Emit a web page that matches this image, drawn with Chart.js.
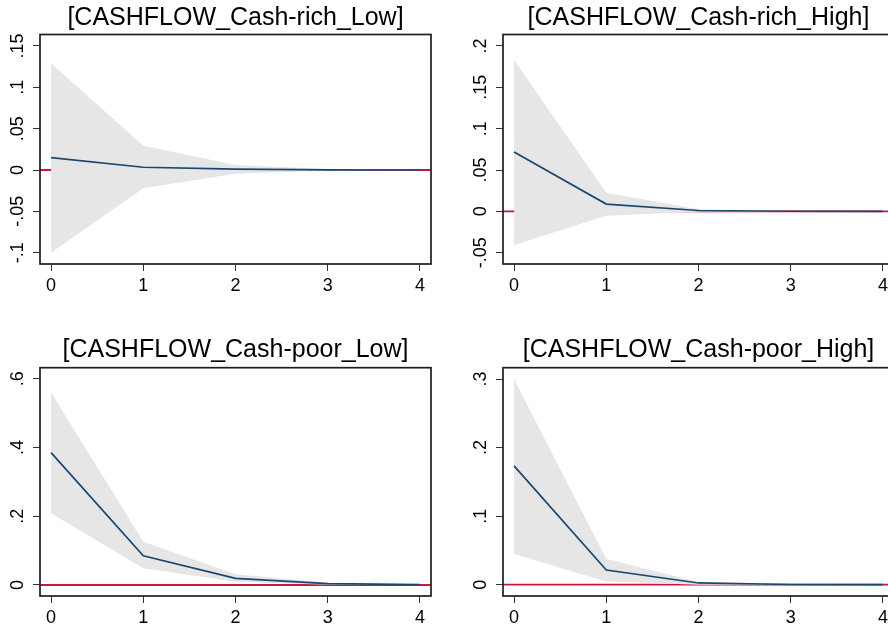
<!DOCTYPE html>
<html>
<head>
<meta charset="utf-8">
<script src="https://cdn.jsdelivr.net/npm/chart.js@4/dist/chart.umd.min.js"></script>
<style>
html,body{margin:0;padding:0;background:#fff;width:888px;height:631px;overflow:hidden;position:relative;}
canvas{position:absolute;display:block;}
</style>
</head>
<body>
<canvas id="c1"></canvas>
<canvas id="c2"></canvas>
<canvas id="c3"></canvas>
<canvas id="c4"></canvas>
<script>
// ---------- DATA ----------
const steps = [0, 1, 2, 3, 4];
const xTickLabels = ['0', '1', '2', '3', '4'];

const titleRichLow  = '[CASHFLOW_Cash-rich_Low]';
const titleRichHigh = '[CASHFLOW_Cash-rich_High]';
const titlePoorLow  = '[CASHFLOW_Cash-poor_Low]';
const titlePoorHigh = '[CASHFLOW_Cash-poor_High]';

const irfRichLow   = [0.0149, 0.0033, 0.0010, 0.0002, 0.0000];
const upperRichLow = [0.1290, 0.0293, 0.0060, 0.0012, 0.0002];
const lowerRichLow = [-0.1000, -0.0220, -0.0045, -0.0008, -0.0001];

const irfRichHigh   = [0.0718, 0.0088, 0.0010, 0.0001, 0.0000];
const upperRichHigh = [0.1830, 0.0225, 0.0025, 0.0003, 0.0000];
const lowerRichHigh = [-0.0408, -0.0053, -0.0005, -0.0001, 0.0000];

const irfPoorLow   = [0.385, 0.085, 0.0195, 0.004, 0.001];
const upperPoorLow = [0.560, 0.126, 0.031, 0.007, 0.0015];
const lowerPoorLow = [0.2085, 0.0485, 0.0096, 0.001, 0.0002];

const irfPoorHigh   = [0.1733, 0.0214, 0.0025, 0.0003, 0.0000];
const upperPoorHigh = [0.2995, 0.0374, 0.0040, 0.0006, 0.0001];
const lowerPoorHigh = [0.0447, 0.0048, 0.0000, 0.0000, 0.0000];

const yTicksRichLow   = [-0.1, -0.05, 0, 0.05, 0.1, 0.15];
const yLabelsRichLow  = ['-.1', '-.05', '0', '.05', '.1', '.15'];
const yTicksRichHigh  = [-0.05, 0, 0.05, 0.1, 0.15, 0.2];
const yLabelsRichHigh = ['-.05', '0', '.05', '.1', '.15', '.2'];
const yTicksPoorLow   = [0, 0.2, 0.4, 0.6];
const yLabelsPoorLow  = ['0', '.2', '.4', '.6'];
const yTicksPoorHigh  = [0, 0.1, 0.2, 0.3];
const yLabelsPoorHigh = ['0', '.1', '.2', '.3'];

const yRangeRichLow  = [-0.1137, 0.1639];
const yRangeRichHigh = [-0.0637, 0.2139];
const yRangePoorLow  = [-0.032, 0.632];
const yRangePoorHigh = [-0.0165, 0.3165];
const xRange = [-0.12, 4.12];
const zeroLevel = 0;

// ---------- STYLE / LAYOUT ----------
const FONT = "'Liberation Sans', Arial, Helvetica, sans-serif";
const TICK_SIZE = 18;
const TITLE_SIZE = 25;
const NAVY = '#1a476f';
const BAND = '#e6e6e6';
const RED = '#cc1440';
const AXIS = '#333333';

const mctx = document.createElement('canvas').getContext('2d');
mctx.font = TICK_SIZE + 'px ' + FONT;
function widestLabel(labels) {
  return Math.max(...labels.map(l => mctx.measureText(l).width));
}

const panels = [
  {id: 'c1', left: 0,   top: 0,   h: 310, xH: 46, tp: {top: 3, bottom: 1.5},
   title: titleRichLow, irf: irfRichLow, up: upperRichLow, lo: lowerRichLow,
   yTicks: yTicksRichLow, yLabels: yLabelsRichLow, yRange: yRangeRichLow},
  {id: 'c2', left: 463, top: 0,   h: 310, xH: 46, tp: {top: 3, bottom: 1.5},
   title: titleRichHigh, irf: irfRichHigh, up: upperRichHigh, lo: lowerRichHigh,
   yTicks: yTicksRichHigh, yLabels: yLabelsRichHigh, yRange: yRangeRichHigh},
  {id: 'c3', left: 0,   top: 332, h: 299, xH: 35, tp: {top: 3, bottom: 2.7},
   title: titlePoorLow, irf: irfPoorLow, up: upperPoorLow, lo: lowerPoorLow,
   yTicks: yTicksPoorLow, yLabels: yLabelsPoorLow, yRange: yRangePoorLow},
  {id: 'c4', left: 463, top: 332, h: 299, xH: 35, tp: {top: 3, bottom: 2.7},
   title: titlePoorHigh, irf: irfPoorHigh, up: upperPoorHigh, lo: lowerPoorHigh,
   yTicks: yTicksPoorHigh, yLabels: yLabelsPoorHigh, yRange: yRangePoorHigh}
];

const framePlugin = {
  id: 'frame',
  beforeDatasetsDraw(chart) {
    const {ctx, chartArea: a, scales: {y}} = chart;
    const py = y.getPixelForValue(zeroLevel);
    ctx.save();
    ctx.strokeStyle = RED;
    ctx.lineWidth = 1.8;
    ctx.beginPath();
    ctx.moveTo(a.left, py);
    ctx.lineTo(a.right, py);
    ctx.stroke();
    ctx.restore();
  },
  afterDatasetsDraw(chart) {
    const {ctx, chartArea: a} = chart;
    ctx.save();
    ctx.strokeStyle = '#1e1e1e';
    ctx.lineWidth = 1.7;
    ctx.strokeRect(a.left, a.top, a.right - a.left, a.bottom - a.top);
    ctx.restore();
  }
};

const Y_AXIS_W = 40, TICK_LEN = 7, Y_LABEL_CENTER = 18.3;

panels.forEach(p => {
  const cv = document.getElementById(p.id);
  cv.width = 444; cv.height = p.h;
  cv.style.left = p.left + 'px'; cv.style.top = p.top + 'px';
  cv.style.width = '444px'; cv.style.height = p.h + 'px';
  const yPad = Y_AXIS_W - TICK_LEN - Y_LABEL_CENTER - widestLabel(p.yLabels) / 2;

  new Chart(cv, {
    type: 'line',
    data: {
      datasets: [
        {label: 'irf', data: steps.map((s, i) => ({x: s, y: p.irf[i]})),
         borderColor: NAVY, borderWidth: 1.7, pointRadius: 0, tension: 0, fill: false},
        {label: 'upper', data: steps.map((s, i) => ({x: s, y: p.up[i]})),
         borderColor: 'rgba(0,0,0,0)', borderWidth: 0, backgroundColor: BAND,
         pointRadius: 0, tension: 0, fill: '+1'},
        {label: 'lower', data: steps.map((s, i) => ({x: s, y: p.lo[i]})),
         borderColor: 'rgba(0,0,0,0)', borderWidth: 0, pointRadius: 0, tension: 0, fill: false}
      ]
    },
    options: {
      responsive: false,
      animation: false,
      devicePixelRatio: 1,
      layout: {padding: {left: 0, right: 13, top: 0, bottom: 0}},
      plugins: {
        legend: {display: false},
        tooltip: {enabled: false},
        title: {
          display: true, text: p.title, fullSize: false, color: '#000',
          font: {family: FONT, size: TITLE_SIZE, weight: 'normal', lineHeight: 1.2},
          padding: p.tp
        }
      },
      scales: {
        x: {
          type: 'linear', min: xRange[0], max: xRange[1],
          afterBuildTicks(s) { s.ticks = steps.map(v => ({value: v})); },
          afterFit(s) { s.height = p.xH; },
          ticks: {
            autoSkip: false, maxRotation: 0, minRotation: 0, padding: 4, color: '#000',
            font: {family: FONT, size: TICK_SIZE},
            callback: (v, i) => xTickLabels[i]
          },
          grid: {display: true, drawOnChartArea: false, drawTicks: true,
                 tickLength: TICK_LEN, color: AXIS, lineWidth: 1},
          border: {display: false}
        },
        y: {
          type: 'linear', min: p.yRange[0], max: p.yRange[1],
          afterBuildTicks(s) { s.ticks = p.yTicks.map(v => ({value: v})); },
          afterFit(s) { s.width = Y_AXIS_W; },
          ticks: {
            autoSkip: false, minRotation: 90, maxRotation: 90, crossAlign: 'center',
            padding: yPad, color: '#000',
            font: {family: FONT, size: TICK_SIZE},
            callback: (v, i) => p.yLabels[i]
          },
          grid: {display: true, drawOnChartArea: false, drawTicks: true,
                 tickLength: TICK_LEN, color: AXIS, lineWidth: 1},
          border: {display: false}
        }
      }
    },
    plugins: [framePlugin]
  });
});
</script>
</body>
</html>
